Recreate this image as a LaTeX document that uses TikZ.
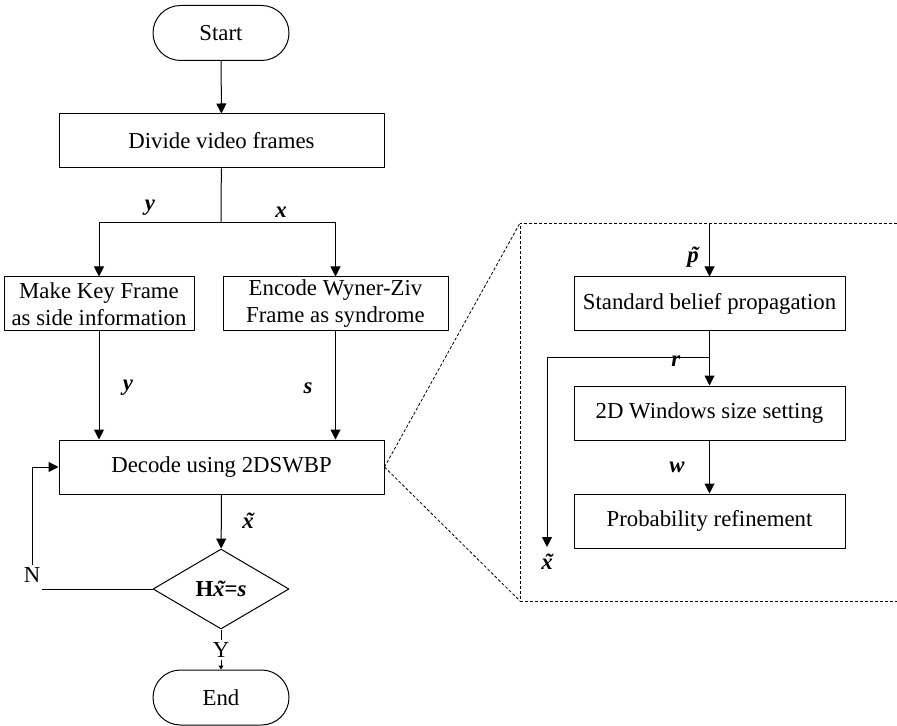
\documentclass[tikz,border=0pt]{standalone}
\usepackage{fontspec}
\setmainfont{Liberation Serif}
\usetikzlibrary{arrows.meta,shapes.geometric}
\tikzset{box/.style={draw,rectangle,align=center,inner sep=0pt},
  term/.style={draw,rectangle,rounded corners=13.75pt,minimum width=68pt,minimum height=27.5pt},
  decis/.style={draw,diamond,aspect=1.7,minimum width=68pt,minimum height=40pt,inner sep=0pt},
  lbl/.style={inner sep=1pt},
  zoomln/.style={line width=0.4pt,dash pattern=on 1.5pt off 1pt}}
\newcommand{\bv}[1]{\textbf{\textit{#1}}}
\newcommand{\tild}[1]{\ooalign{#1\cr\hidewidth\kern0.12em\char"02DC\hidewidth\cr}}

\begin{document}
\begin{tikzpicture}[x=0.5pt,y=-0.5pt,>={Triangle[length=5pt,width=5pt]},line width=0.5pt,line join=round,font=\fontsize{11.4}{13.5}\selectfont]
\useasboundingbox (0,0) rectangle (897,726);
% --- main flow
\node[term] (start) at (221,33) {Start};
\node[box,minimum width=162.5pt,minimum height=27pt] (divide) at (221.5,141) {Divide video frames};
\node[box,minimum width=95pt,minimum height=27pt] (key) at (99,304) {Make Key Frame\\as side information};
\node[box,minimum width=112.5pt,minimum height=27pt] (enc) at (335.5,304) {Encode Wyner-Ziv\\Frame as syndrome};
\node[box,minimum width=162.5pt,minimum height=27pt] (decode) at (221.5,467) {Decode using 2DSWBP};
\node[decis] (check) at (221,589) {\textbf{H\textit{\tild{x}}=\textit{s}}};
\node[term] (end) at (221,697.5) {End};
\coordinate (split) at (221,223);
\draw[->] (start) -- (divide);
\draw (divide) -- (split);
\draw[->] (split) -| (key);
\draw[->] (split) -| (enc);
\node[lbl] (ly1) at (150,208) {\bv{y}}; \node[lbl] (lx1) at (281,212) {\bv{x}};
\draw[->] (key) -- (key |- decode.north);
\draw[->] (enc) -- (enc |- decode.north);
\node[lbl] (ly2) at (128,388) {\bv{y}}; \node[lbl] (ls) at (308,388) {\bv{s}};
\draw[->] (decode) -- (check);
\node[lbl] (lx2) at (248,523) {\bv{\tild{x}}};
% --- N loop and Y exit
\node[lbl] (nlbl) at (32,575) {N};
\coordinate (nend) at (42,589);
\draw (check.west) -- (nend);
\draw[->] (nlbl.north) |- (decode.west);
\node[lbl] (ylbl) at (221,650) {Y};
\draw (check.south) -- (ylbl.north);
\draw[-{Triangle[length=2pt,width=2.5pt]}] (ylbl.south) -- (end);
% --- zoomed view of the decoder
\coordinate (ztop) at (520,223); \coordinate (zbot) at (520,601);
\draw[zoomln] (decode.east) -- (ztop); \draw[zoomln] (decode.east) -- (zbot);
\draw[zoomln] (897,223) -- (ztop) -- (zbot) -- (897,601);
\node[box,minimum width=135.5pt,minimum height=27pt] (sbp) at (709.5,304) {Standard belief propagation};
\node[box,minimum width=135.5pt,minimum height=27pt] (win) at (709.5,413) {2D Windows size setting};
\node[box,minimum width=135.5pt,minimum height=27pt] (prob) at (709.5,521) {Probability refinement};
\coordinate (ptop) at (709.5,223); \coordinate (rsplit) at (709.5,357); \coordinate (xout) at (547,547);
\draw[->] (ptop) -- (sbp);
\draw[->] (sbp) -- (win);
\draw[->] (rsplit) -| (xout);
\draw[->] (win) -- (prob);
\node[lbl] (lp) at (693,257) {\bv{\tild{p}}};
\node[lbl] (lr) at (676,361) {\bv{r}};
\node[lbl] (lw) at (677,467) {\bv{w}};
\node[lbl] (lx3) at (547,564) {\bv{\tild{x}}};
\end{tikzpicture}
\end{document}
